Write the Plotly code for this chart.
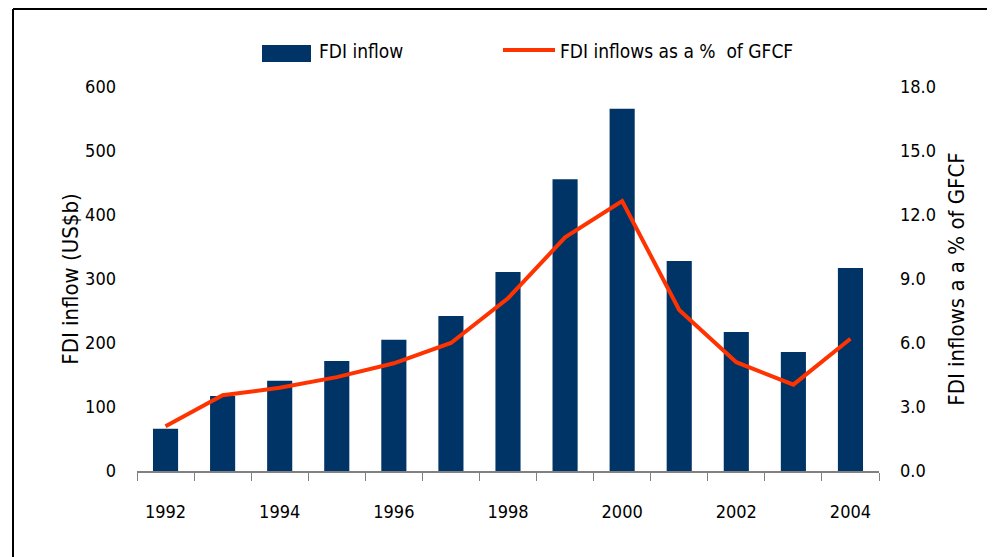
import plotly.graph_objects as go

years = [1992, 1993, 1994, 1995, 1996, 1997, 1998, 1999, 2000, 2001, 2002, 2003, 2004]
fdi_inflow = [66, 117, 141, 172, 205, 242, 311, 456, 566, 328, 217, 186, 317]
fdi_pct_gfcf = [2.1, 3.55, 3.9, 4.4, 5.05, 6.0, 8.1, 10.95, 12.65, 7.55, 5.1, 4.05, 6.2]
year_ticks = [1992, 1994, 1996, 1998, 2000, 2002, 2004]
left_ticks = [0, 100, 200, 300, 400, 500, 600]
right_ticks = [0, 3, 6, 9, 12, 15, 18]

FONT = "Liberation Sans Narrow, DejaVu Sans Condensed, Arial Narrow, sans-serif"
NAVY = "#003366"
RED = "#FF3300"

fig = go.Figure()
fig.add_trace(go.Bar(x=years, y=fdi_inflow, width=0.44, marker=dict(color=NAVY, line=dict(width=0)),
                     name="FDI inflow", showlegend=False))
fig.add_trace(go.Scatter(x=years, y=fdi_pct_gfcf, mode="lines", line=dict(color=RED, width=4),
                         name="FDI inflows as a %  of GFCF", yaxis="y2", showlegend=False))

OFF = 8  # page body margin
W, H = 995 - OFF, 557 - OFF
L, T = 137 - OFF, 87 - OFF
R = W - (879 - OFF)
B = H - (471 - OFF)
pw, ph = W - L - R, H - T - B

def px(x):  # page pixel -> paper
    return (x - OFF - L) / pw

def py(y):
    return (H - B - (y - OFF)) / ph

fig.update_layout(
    width=W, height=H,
    margin=dict(l=L, r=R, t=T, b=B, autoexpand=False),
    paper_bgcolor="white", plot_bgcolor="white",
    font=dict(family=FONT, color="#000000", size=18),
    xaxis=dict(range=[1991.5, 2004.5], tickvals=year_ticks, ticktext=[str(y) for y in year_ticks],
               ticks="", showgrid=False, zeroline=False, showline=True, linecolor="#808080", linewidth=2,
               ticklabelstandoff=23, tickfont=dict(size=18), automargin=False,
               minor=dict(tick0=1991.5, dtick=1, ticks="outside", ticklen=8, tickcolor="#808080",
                          tickwidth=1, showgrid=False)),
    yaxis=dict(range=[0, 600], tickvals=left_ticks, showgrid=False, zeroline=False, showline=False,
               ticks="", ticklabelstandoff=20, tickfont=dict(size=18), automargin=False,
               title=dict(text="FDI inflow (US$b)", font=dict(size=22), standoff=0)),
    yaxis2=dict(range=[0, 18], tickvals=right_ticks, ticktext=[f"{v:.1f}" for v in right_ticks],
                overlaying="y", side="right", showgrid=False, zeroline=False, showline=False,
                ticks="", ticklabelstandoff=20, tickfont=dict(size=18), automargin=False,
                title=dict(text="FDI inflows a a % of GFCF", font=dict(size=22), standoff=13)),
    shapes=[
        dict(type="line", xref="paper", yref="paper", x0=px(13), x1=px(13), y0=py(560), y1=py(9),
             line=dict(color="black", width=2)),
        dict(type="line", xref="paper", yref="paper", x0=px(13), x1=px(1000), y0=py(9), y1=py(9),
             line=dict(color="black", width=2)),
        dict(type="rect", xref="paper", yref="paper", x0=px(262), x1=px(311), y0=py(62), y1=py(45),
             fillcolor=NAVY, line=dict(width=0)),
        dict(type="line", xref="paper", yref="paper", x0=px(503), x1=px(555), y0=py(50), y1=py(50),
             line=dict(color=RED, width=4)),
    ],
    annotations=[
        dict(text="FDI inflow", xref="paper", yref="paper", x=px(317), y=py(51), xanchor="left",
             yanchor="middle", showarrow=False, font=dict(size=19)),
        dict(text="FDI inflows as a %  of GFCF", xref="paper", yref="paper", x=px(558), y=py(51),
             xanchor="left", yanchor="middle", showarrow=False, font=dict(size=19)),
    ],
)

fig.write_html("out.html")
